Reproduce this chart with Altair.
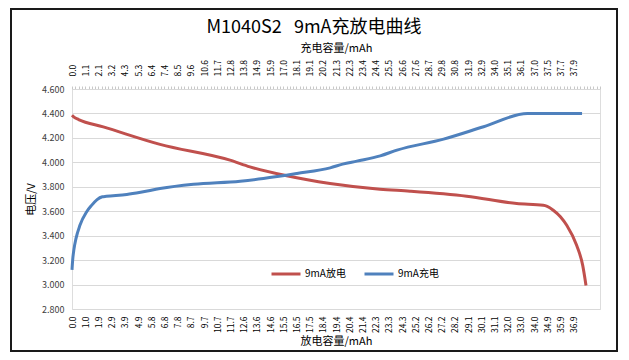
import json
import altair as alt
import pandas as pd

# bottom (discharge) and top (charge) category labels, mAh
bottom_labels = ["0.0","1.0","1.9","2.9","3.9","4.9","5.8","6.8","7.8","8.7","9.7","10.7","11.7","12.6",
                 "13.6","14.6","15.5","16.5","17.5","18.4","19.4","20.4","21.4","22.3","23.3","24.3","25.2",
                 "26.2","27.2","28.2","29.1","30.1","31.1","32.0","33.0","34.0","34.9","35.9","36.9"]
top_labels = ["0.0","1.1","2.1","3.2","4.3","5.3","6.4","7.4","8.5","9.6","10.6","11.7","12.8","13.8",
              "14.9","15.9","17.0","18.1","19.1","20.2","21.3","22.3","23.4","24.4","25.5","26.6","27.6",
              "28.7","29.8","30.8","31.9","32.9","34.0","35.1","36.1","37.0","37.5","37.7","37.9"]

# discharge series: category position, voltage
dis_pos = [0, 0.15, 0.5, 2.37, 6.67, 11.97, 13.48, 16.27, 19.55, 23.33, 25.6, 29.9, 33.69, 35.7,
           36.0, 36.46, 37.0, 37.48, 38.23, 38.69, 38.94]
dis_v = [4.385, 4.37, 4.35, 4.29, 4.147, 4.018, 3.963, 3.89, 3.827, 3.78, 3.764, 3.723, 3.663, 3.649,
         3.64, 3.608, 3.555, 3.485, 3.321, 3.157, 2.993]

# charge series: category position, voltage
chg_pos = [0, 0.05, 0.15, 0.3, 0.6, 1.1, 1.5, 1.9, 2.3, 2.6, 4.15, 5.2, 6.67, 9.2, 12.74, 14.5, 17.04,
           19.56, 20.5, 21.58, 23.35, 24.62, 28.15, 31.18, 34.5, 38.64]
chg_v = [3.12, 3.2, 3.29, 3.376, 3.485, 3.594, 3.65, 3.695, 3.718, 3.722, 3.737, 3.755, 3.786, 3.821,
         3.846, 3.868, 3.909, 3.955, 3.985, 4.01, 4.053, 4.1, 4.19, 4.291, 4.40, 4.40]

y_ticks = [2.8, 3.0, 3.2, 3.4, 3.6, 3.8, 4.0, 4.2, 4.4, 4.6]

series_names = ["9mA放电", "9mA充电"]
series_colors = ["#C0504D", "#4F81BD"]
chart_title = "M1040S2\u00a0\u00a0 9mA充放电曲线"

dis_df = pd.DataFrame({"pos": dis_pos, "v": dis_v, "series": series_names[0]})
chg_df = pd.DataFrame({"pos": chg_pos, "v": chg_v, "series": series_names[1]})

FONT = "Noto Sans CJK SC"
xscale = alt.Scale(domain=[0, 40], nice=False, zero=False)
yscale = alt.Scale(domain=[2.8, 4.6], nice=False, zero=False)
color = alt.Color("series:N", scale=alt.Scale(domain=series_names, range=series_colors),
                  legend=alt.Legend(title=None, orient="none", legendX=198, legendY=169,
                                    direction="horizontal", symbolType="stroke", symbolSize=841,
                                    symbolStrokeWidth=3, labelFontSize=10, labelFont=FONT,
                                    labelColor="#000000", columnPadding=12, labelOffset=3))

bottom_expr = json.dumps(bottom_labels) + "[datum.value]"
top_expr = "datum.value % 1 == 0 && datum.value < 39 ? " + json.dumps(top_labels) + "[datum.value] : ''"

y_axis = alt.Axis(title="电压/V", values=y_ticks, format=".3f",
                  grid=True, gridColor="#D9D9D9", ticks=False, domain=False,
                  labelFontSize=9, labelFont=FONT, labelColor="#404040", labelPadding=8,
                  labelOverlap=False,
                  titleFont=FONT, titleFontSize=11, titleFontWeight="normal",
                  titleColor="#000000", titlePadding=5)

dis = alt.Chart(dis_df).mark_line(strokeWidth=3, interpolate="monotone").encode(
    x=alt.X("pos:Q", scale=xscale,
            axis=alt.Axis(orient="bottom", title="放电容量/mAh", values=list(range(39)),
                          labelExpr=bottom_expr, labelAngle=270, labelAlign="right",
                          labelBaseline="middle", labelFontSize=8.5, labelFont=FONT,
                          labelColor="#000000", labelPadding=7, ticks=False, tickSize=0,
                          domain=False, grid=False, labelOverlap=False,
                          titleFont=FONT, titleFontSize=11, titleFontWeight="normal",
                          titleColor="#000000", titlePadding=3)),
    y=alt.Y("v:Q", scale=yscale, axis=y_axis),
    color=color,
)

chg = alt.Chart(chg_df).mark_line(strokeWidth=3, interpolate="monotone").encode(
    x=alt.X("pos:Q", scale=xscale,
            axis=alt.Axis(orient="top", title="充电容量/mAh", values=[i * 0.25 for i in range(161)],
                          labelExpr=top_expr, labelAngle=270, labelAlign="left",
                          labelBaseline="middle", labelFontSize=8.5, labelFont=FONT,
                          labelColor="#000000", labelPadding=10, ticks=True, tickSize=3,
                          tickColor="#C8C8C8", domain=True, domainColor="#D9D9D9", grid=False,
                          labelOverlap=False,
                          titleFont=FONT, titleFontSize=11, titleFontWeight="normal",
                          titleColor="#000000", titlePadding=6)),
    y=alt.Y("v:Q", scale=yscale, axis=y_axis),
    color=color,
)

title_mark = alt.Chart(pd.DataFrame({"t": [chart_title]})).mark_text(
    font=FONT, fontSize=18, color="#000000", align="center", baseline="middle"
).encode(x=alt.value(242), y=alt.value(-61), text="t:N")

frame = alt.Chart(pd.DataFrame({"f": [0]})).mark_rect(filled=False, stroke="#1a1a1a", strokeWidth=2).encode(
    x=alt.value(-61), x2=alt.value(545), y=alt.value(-80), y2=alt.value(262)
)

chart = alt.layer(dis, chg, title_mark, frame).resolve_axis(x="independent").properties(
    width=528, height=220,
    padding={"left": 64, "top": 81, "right": 21, "bottom": 43},
    autosize=alt.AutoSizeParams(type="none"),
).configure_view(stroke=None).configure(background="white")

chart.save("out.html", embed_options={"renderer": "svg", "actions": False})
